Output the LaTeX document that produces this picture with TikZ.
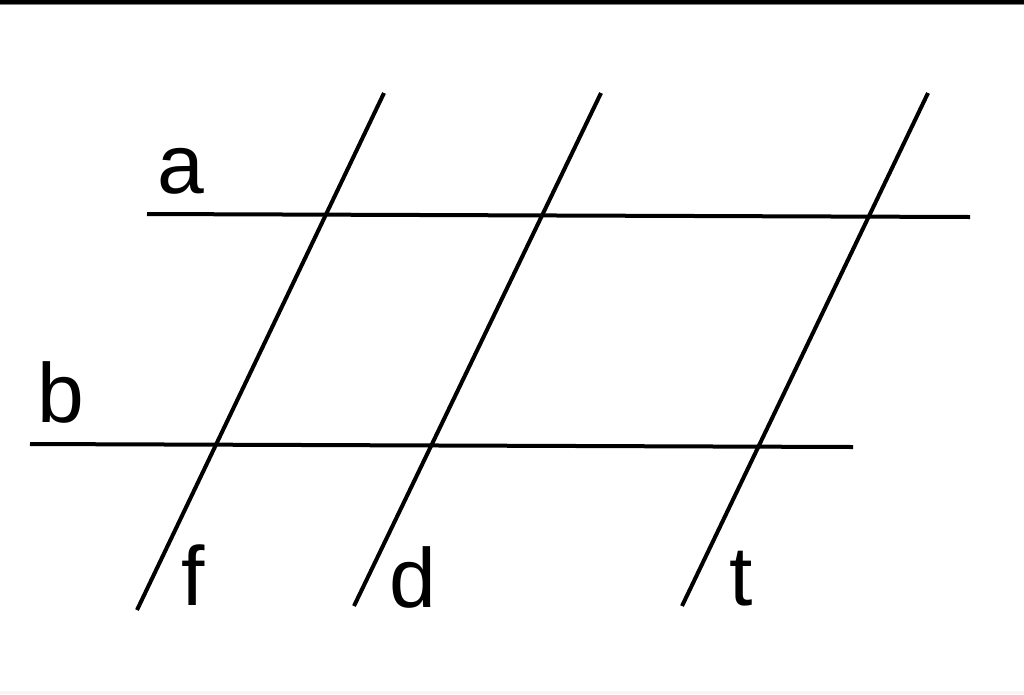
\documentclass[tikz,border=0pt]{standalone}
\usepackage{fontspec}
\setmainfont{Liberation Sans}
\begin{document}
\begin{tikzpicture}[x=1pt,y=-1pt,
  ln/.style={line width=4pt},
  lbl/.style={anchor=base,inner sep=0pt,font=\fontsize{84}{84}\selectfont}]
\useasboundingbox (0,0) rectangle (1024,694);
\fill[white] (0,0) rectangle (1024,694);
\fill[black] (0,0) rectangle (1024,4);
\fill[gray] (0,4) rectangle (1024,5);
\fill[black!4] (0,691) rectangle (1024,694);
% horizontal lines
\coordinate (a1) at (147,214); \coordinate (a2) at (970,217);
\coordinate (b1) at (30,444); \coordinate (b2) at (853,447);
\draw[ln] (a1) -- (a2);
\draw[ln] (b1) -- (b2);
% slanted lines
\coordinate (f1) at (384,93); \coordinate (f2) at (137,610);
\coordinate (d1) at (601,93); \coordinate (d2) at (354,606);
\coordinate (t1) at (928,93); \coordinate (t2) at (682,606);
\draw[ln] (f1) -- (f2);
\draw[ln] (d1) -- (d2);
\draw[ln] (t1) -- (t2);
% labels
\node[lbl] (la) at (181,193) {a};
\node[lbl] (lb) at (61,422) {b};
\node[lbl] (lf) at (193,605) {f};
\node[lbl] (ld) at (413,607) {d};
\node[lbl] (lt) at (741,605) {t};
\end{tikzpicture}
\end{document}
